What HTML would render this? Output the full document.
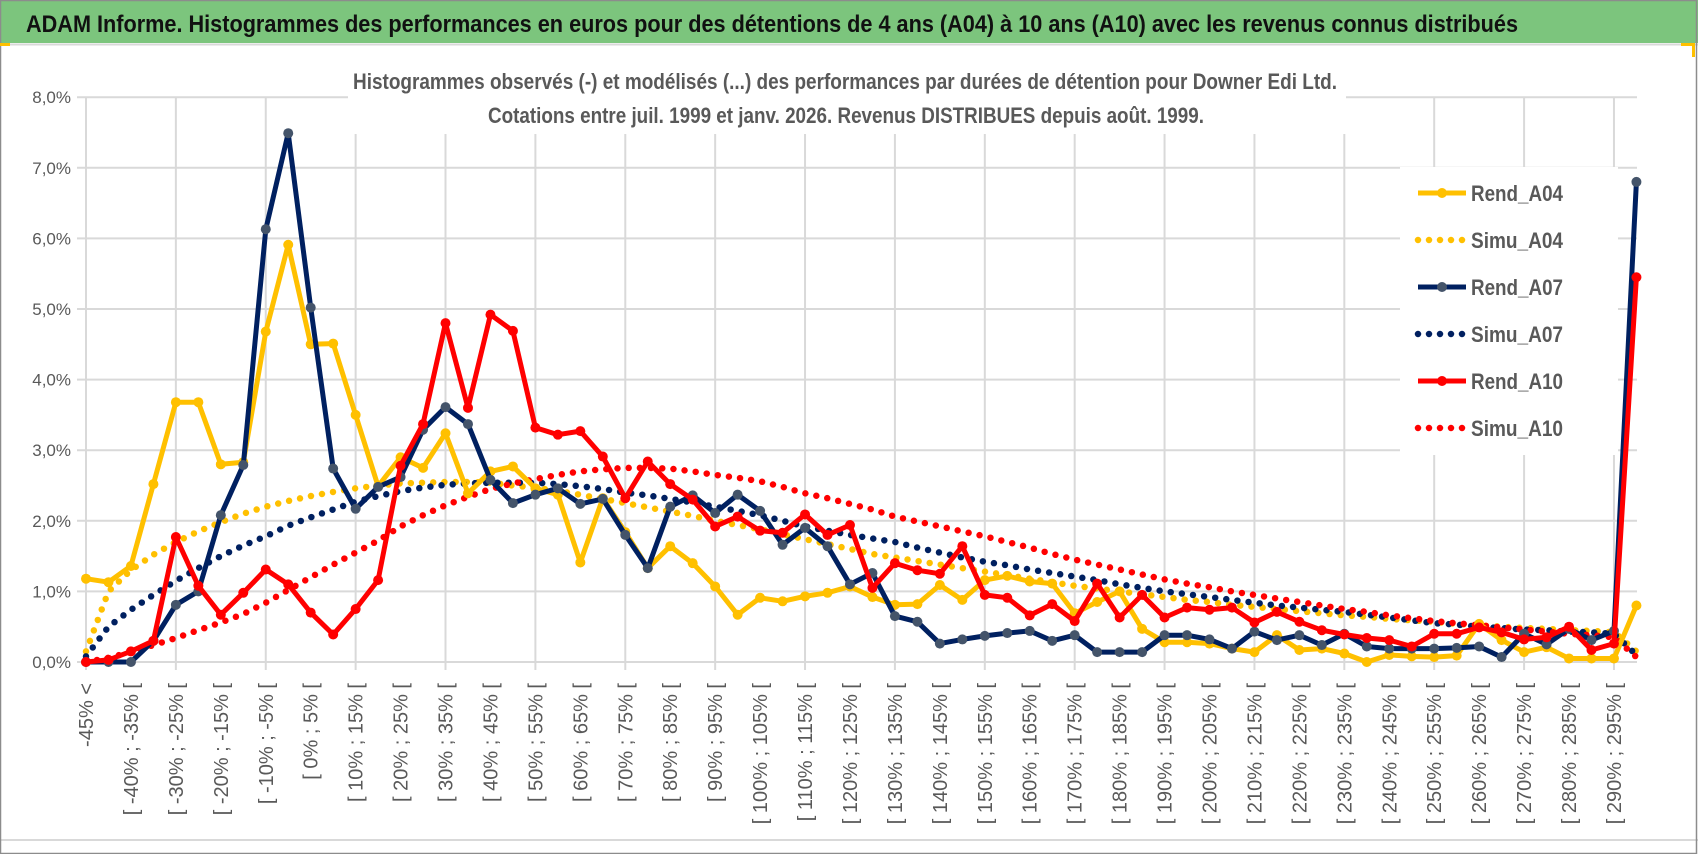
<!DOCTYPE html>
<html><head><meta charset="utf-8"><style>
html,body{margin:0;padding:0;background:#fff;}
svg{display:block;font-family:"Liberation Sans",sans-serif;}
</style></head><body>
<svg id="chart" width="1698" height="854" viewBox="0 0 1698 854" xmlns="http://www.w3.org/2000/svg">
<rect x="0" y="0" width="1698" height="854" fill="#fff"/>
<rect x="0" y="0" width="1698" height="43" fill="#7cc57d"/>
<line x1="0" y1="44.5" x2="1698" y2="44.5" stroke="#d9d9d9" stroke-width="2"/>
<line x1="0" y1="840" x2="1698" y2="840" stroke="#d9d9d9" stroke-width="2"/>
<rect x="0.5" y="0.5" width="1696" height="853" fill="none" stroke="#8c8c8c" stroke-width="1.5"/>
<rect x="1681" y="43" width="14" height="3" fill="#ffc000"/>
<rect x="1692" y="43" width="3" height="14" fill="#ffc000"/>
<rect x="0" y="43" width="10" height="3" fill="#ffc000"/>
<text x="26" y="32" font-size="24" font-weight="bold" fill="#111" textLength="1492" lengthAdjust="spacingAndGlyphs">ADAM Informe. Histogrammes des performances en euros pour des détentions de 4 ans (A04) à 10 ans (A10) avec les revenus connus distribués</text>
<g id="grid"></g>
<rect x="348" y="60" width="998" height="74" fill="#fff"/>
<text x="353" y="89" font-size="22" font-weight="bold" fill="#595959" textLength="984" lengthAdjust="spacingAndGlyphs">Histogrammes observés (-) et modélisés (...) des performances par durées de détention pour Downer Edi Ltd.</text>
<text x="488" y="123" font-size="22" font-weight="bold" fill="#595959" textLength="716" lengthAdjust="spacingAndGlyphs">Cotations entre juil. 1999 et janv. 2026. Revenus DISTRIBUES depuis août. 1999.</text>
<g id="yaxis"></g>
<g id="xaxis"></g>
<g id="series"></g>
<g id="legend">
<rect x="1400" y="167" width="218" height="288" fill="#fff"/>
</g>
</svg>
<script>
const yTicks = [0,1,2,3,4,5,6,7,8];
const rendA04 = [1.18,1.13,1.36,2.52,3.68,3.68,2.80,2.83,4.68,5.91,4.50,4.51,3.50,2.49,2.90,2.75,3.24,2.39,2.70,2.77,2.46,2.37,1.41,2.32,1.84,1.33,1.64,1.40,1.07,0.67,0.91,0.86,0.93,0.98,1.07,0.92,0.81,0.82,1.09,0.88,1.16,1.22,1.14,1.11,0.69,0.85,1.00,0.47,0.28,0.28,0.26,0.19,0.14,0.38,0.17,0.19,0.12,0.00,0.10,0.08,0.07,0.09,0.54,0.31,0.14,0.21,0.05,0.05,0.05,0.80];
const rendA07 = [0,0,0,0.30,0.81,1.00,2.08,2.79,6.13,7.49,5.02,2.74,2.17,2.48,2.62,3.29,3.61,3.37,2.58,2.25,2.37,2.46,2.24,2.31,1.80,1.33,2.20,2.36,2.11,2.37,2.14,1.66,1.90,1.64,1.10,1.26,0.65,0.57,0.26,0.32,0.37,0.41,0.44,0.30,0.38,0.14,0.14,0.14,0.38,0.38,0.32,0.19,0.43,0.31,0.38,0.24,0.40,0.22,0.19,0.19,0.19,0.20,0.22,0.07,0.40,0.25,0.47,0.31,0.44,6.80];
const rendA10 = [0,0.03,0.15,0.30,1.77,1.08,0.67,0.98,1.31,1.10,0.70,0.39,0.75,1.16,2.78,3.37,4.80,3.60,4.92,4.69,3.32,3.22,3.27,2.91,2.32,2.84,2.52,2.30,1.92,2.06,1.86,1.83,2.09,1.80,1.94,1.05,1.40,1.30,1.25,1.64,0.95,0.91,0.66,0.82,0.58,1.11,0.63,0.95,0.63,0.77,0.74,0.77,0.56,0.71,0.57,0.45,0.39,0.34,0.31,0.22,0.40,0.40,0.49,0.42,0.32,0.35,0.50,0.17,0.26,5.45];
const simuA04 = [0.15,1.00,1.30,1.52,1.70,1.85,1.98,2.10,2.20,2.28,2.35,2.41,2.46,2.50,2.53,2.54,2.55,2.55,2.54,2.50,2.47,2.42,2.37,2.31,2.25,2.19,2.13,2.07,2.00,1.94,1.88,1.81,1.74,1.67,1.60,1.53,1.48,1.43,1.38,1.33,1.28,1.23,1.18,1.13,1.08,1.04,1.00,0.96,0.92,0.88,0.85,0.81,0.78,0.75,0.72,0.69,0.66,0.64,0.61,0.59,0.57,0.54,0.52,0.50,0.48,0.47,0.45,0.44,0.42,0.15];
const simuA07 = [0.08,0.50,0.74,0.95,1.15,1.33,1.50,1.65,1.78,1.93,2.05,2.16,2.27,2.35,2.42,2.47,2.51,2.53,2.54,2.54,2.54,2.52,2.49,2.45,2.40,2.36,2.31,2.26,2.20,2.14,2.08,2.00,1.92,1.86,1.80,1.75,1.70,1.62,1.55,1.48,1.42,1.37,1.31,1.26,1.21,1.16,1.10,1.05,1.00,0.96,0.92,0.88,0.84,0.80,0.77,0.74,0.71,0.67,0.63,0.59,0.55,0.53,0.50,0.48,0.46,0.45,0.43,0.42,0.40,0.10];
const simuA10 = [0.00,0.06,0.14,0.24,0.34,0.45,0.56,0.68,0.84,1.02,1.20,1.38,1.55,1.72,1.92,2.08,2.22,2.34,2.45,2.53,2.59,2.65,2.70,2.73,2.75,2.75,2.74,2.70,2.65,2.61,2.56,2.48,2.39,2.32,2.24,2.16,2.06,1.99,1.92,1.85,1.78,1.70,1.62,1.53,1.45,1.38,1.31,1.24,1.17,1.11,1.06,1.00,0.95,0.90,0.85,0.80,0.75,0.71,0.66,0.62,0.58,0.55,0.52,0.49,0.46,0.43,0.40,0.38,0.35,0.07];
const categories = ["-45% <"];
for (let k = 1; k < 70; k++) { const a = -45 + 5 * (k - 1); categories.push("[ " + a + "% ; " + (a + 5) + "% ["); }

const NS = "http://www.w3.org/2000/svg";
const X0 = 86, DX = 22.47, Y0 = 662, PY = 70.6;
const xPos = i => X0 + i * DX;
const yPos = v => Y0 - v * PY;
function mk(tag, attrs, parent) { const e = document.createElementNS(NS, tag); for (const k in attrs) e.setAttribute(k, attrs[k]); parent.appendChild(e); return e; }

const grid = document.getElementById("grid");
yTicks.forEach(t => {
  const l = mk("line", {x1: 77, x2: 1637, y1: yPos(t), y2: yPos(t), stroke: "#d9d9d9", "stroke-width": 2}, grid);
  
  
});
for (let i = 0; i < categories.length; i += 4) {
  const l = mk("line", {x1: xPos(i), x2: xPos(i), y1: yPos(8), y2: Y0 + 8, stroke: "#d9d9d9", "stroke-width": 2}, grid);
  
  
}
const yax = document.getElementById("yaxis");
yTicks.forEach(t => {
  const tx = mk("text", {x: 71, y: yPos(t) + 6, "text-anchor": "end", "font-size": 17, fill: "#595959"}, yax);
  tx.textContent = t.toFixed(1).replace(".", ",") + "%";
  
  
});
const xax = document.getElementById("xaxis");
for (let i = 0; i < categories.length; i += 2) {
  const x = xPos(i) + 7, y = 683;
  const tx = mk("text", {x: x, y: y, "text-anchor": "end", "font-size": 20, fill: "#595959", transform: "rotate(-90 " + x + " " + y + ")"}, xax);
  tx.textContent = categories[i];
  
  
}
const ser = document.getElementById("series");
function pts(arr) { return arr.map((v, i) => xPos(i).toFixed(1) + "," + yPos(v).toFixed(1)).join(" "); }
function dotted(arr, color, name) {
  const p = mk("polyline", {points: pts(arr), fill: "none", stroke: color, "stroke-width": 6.5, "stroke-linecap": "round", "stroke-dasharray": "0 11.2"}, ser);
  
  
}
function solid(arr, color, mcolor, name) {
  const g = mk("g", {}, ser);
  
  
  mk("polyline", {points: pts(arr), fill: "none", stroke: color, "stroke-width": 5, "stroke-linejoin": "round"}, g);
  arr.forEach((v, i) => {
    const c = mk("circle", {cx: xPos(i), cy: yPos(v), r: 5, fill: mcolor}, g);
    
    
  });
}
dotted(simuA04, "#ffc000", "simu-a04-line");
dotted(simuA07, "#002060", "simu-a07-line");
dotted(simuA10, "#ff0000", "simu-a10-line");
solid(rendA04, "#ffc000", "#ffc000", "rend-a04-line");
solid(rendA07, "#002060", "#44546a", "rend-a07-line");
solid(rendA10, "#ff0000", "#ff0000", "rend-a10-line");

const legendNames = ["Rend_A04", "Simu_A04", "Rend_A07", "Simu_A07", "Rend_A10", "Simu_A10"];
const legendColors = ["#ffc000", "#ffc000", "#002060", "#002060", "#ff0000", "#ff0000"];
const lg = document.getElementById("legend");
legendNames.forEach((n, i) => {
  const y = 193 + i * 47;
  const g = mk("g", {}, lg);
  
  
  if (i % 2 === 0) {
    mk("line", {x1: 1418, x2: 1466, y1: y, y2: y, stroke: legendColors[i], "stroke-width": 5}, g);
    mk("circle", {cx: 1442, cy: y, r: 5, fill: i === 2 ? "#44546a" : legendColors[i]}, g);
  } else {
    mk("line", {x1: 1418, x2: 1466, y1: y, y2: y, stroke: legendColors[i], "stroke-width": 6.5, "stroke-linecap": "round", "stroke-dasharray": "0 11"}, g);
  }
  const t = mk("text", {x: 1471, y: y + 8, "font-size": 22, "font-weight": "bold", fill: "#595959", textLength: 92, lengthAdjust: "spacingAndGlyphs"}, g);
  t.textContent = n;
});
</script>
</body></html>
